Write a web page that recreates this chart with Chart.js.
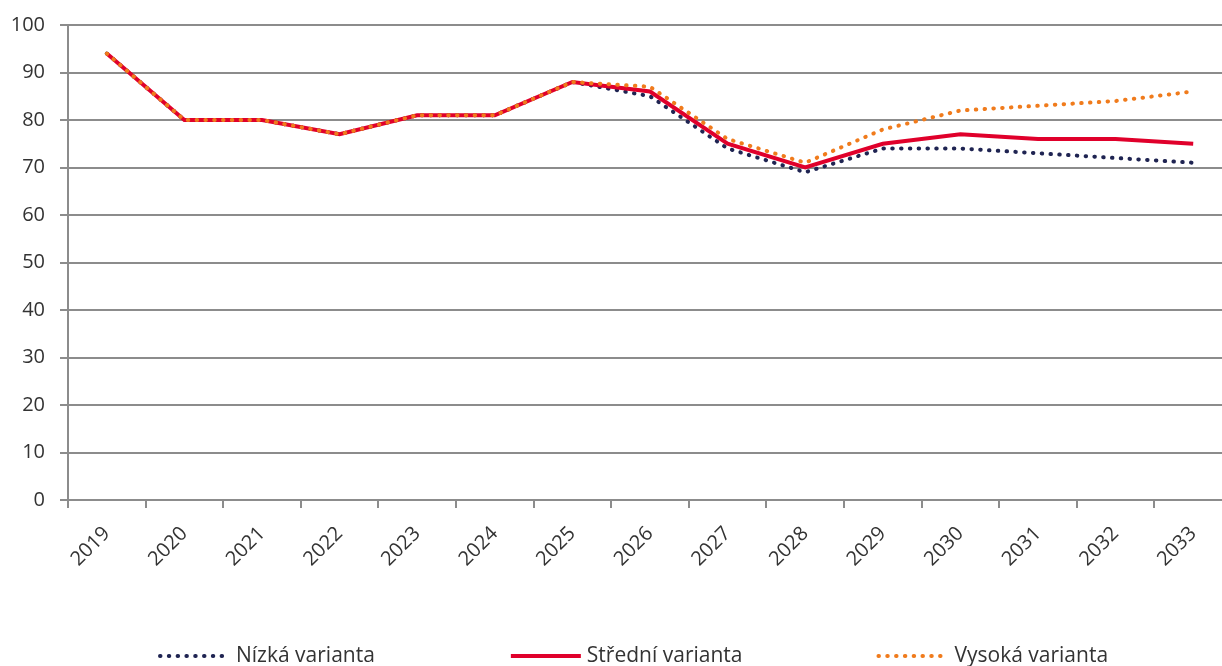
<!DOCTYPE html>
<html>
<head>
<meta charset="utf-8">
<script src="https://cdn.jsdelivr.net/npm/chart.js@4/dist/chart.umd.min.js"></script>
<style>
  html, body { margin: 0; padding: 0; background: #fff; overflow: hidden; }
  #wrap { width: 1232px; height: 666px; }
</style>
</head>
<body>
<div id="wrap"><canvas id="chart"></canvas></div>
<script>
// years on the x axis
const years = ['2019', '2020', '2021', '2022', '2023', '2024', '2025', '2026',
  '2027', '2028', '2029', '2030', '2031', '2032', '2033'];

// the three variants
const nizka   = [94, 80, 80, 77, 81, 81, 88, 85, 74, 69, 74, 74, 73, 72, 71];
const stredni = [94, 80, 80, 77, 81, 81, 88, 86, 75, 70, 75, 77, 76, 76, 75];
const vysoka  = [94, 80, 80, 77, 81, 81, 88, 87, 76, 71, 78, 82, 83, 84, 86];

const labels = ['Nízká varianta', 'Střední varianta', 'Vysoká varianta'];

const gridColor = '#8c8c8c';
const textColor = '#333333';
const fontFamily = "'Open Sans', 'DejaVu Sans', sans-serif";

// legend drawn by hand so the items can sit far apart like the original
const bottomLegend = {
  id: 'bottomLegend',
  afterDraw(chart) {
    const ctx = chart.ctx;
    const y = 656;
    const gap = 136;
    let x = 160;
    ctx.save();
    ctx.font = '400 21px ' + fontFamily;
    ctx.textBaseline = 'middle';
    ctx.textAlign = 'left';
    chart.data.datasets.forEach(ds => {
      ctx.beginPath();
      ctx.strokeStyle = ds.borderColor;
      ctx.lineWidth = ds.borderWidth;
      ctx.lineCap = ds.borderCapStyle || 'butt';
      ctx.setLineDash(ds.borderDash || []);
      ctx.moveTo(x, y);
      ctx.lineTo(x + 70, y);
      ctx.stroke();
      ctx.setLineDash([]);
      ctx.fillStyle = textColor;
      ctx.fillText(ds.label, x + 76, y);
      x += 76 + ctx.measureText(ds.label).width + gap;
    });
    ctx.restore();
  }
};

const ctx = document.getElementById('chart').getContext('2d');
new Chart(ctx, {
  type: 'line',
  data: {
    labels: years,
    datasets: [
      {
        label: labels[0],
        data: nizka,
        borderColor: '#1f2452',
        borderWidth: 4,
        borderDash: [0.5, 8.3],
        borderCapStyle: 'round',
        pointRadius: 0,
        order: 3
      },
      {
        label: labels[1],
        data: stredni,
        borderColor: '#e0002b',
        borderWidth: 4,
        pointRadius: 0,
        order: 2
      },
      {
        label: labels[2],
        data: vysoka,
        borderColor: '#f07b1c',
        borderWidth: 4,
        borderDash: [0.5, 8.3],
        borderCapStyle: 'round',
        pointRadius: 0,
        order: 1
      }
    ]
  },
  options: {
    responsive: true,
    maintainAspectRatio: false,
    animation: false,
    layout: { padding: { top: 23, right: 0, bottom: 0, left: 0 } },
    plugins: {
      legend: { display: false },
      tooltip: { enabled: false }
    },
    scales: {
      x: {
        offset: true,
        grid: {
          offset: true,
          drawOnChartArea: false,
          drawTicks: true,
          tickLength: 8,
          color: gridColor,
          lineWidth: 2
        },
        border: { color: gridColor, width: 2 },
        ticks: {
          autoSkip: false,
          minRotation: 45,
          maxRotation: 45,
          padding: 14,
          color: textColor,
          font: { family: fontFamily, size: 20, weight: '400' }
        },
        afterFit(scale) { scale.height = 166; }
      },
      y: {
        min: 0,
        max: 100,
        ticks: {
          stepSize: 10,
          padding: 15,
          color: textColor,
          font: { family: fontFamily, size: 20, weight: '400', lineHeight: 1 }
        },
        grid: {
          color: gridColor,
          lineWidth: 2,
          tickLength: 8
        },
        border: { color: gridColor, width: 2 },
        afterFit(scale) { scale.width = 68; }
      }
    }
  },
  plugins: [bottomLegend]
});
</script>
</body>
</html>
